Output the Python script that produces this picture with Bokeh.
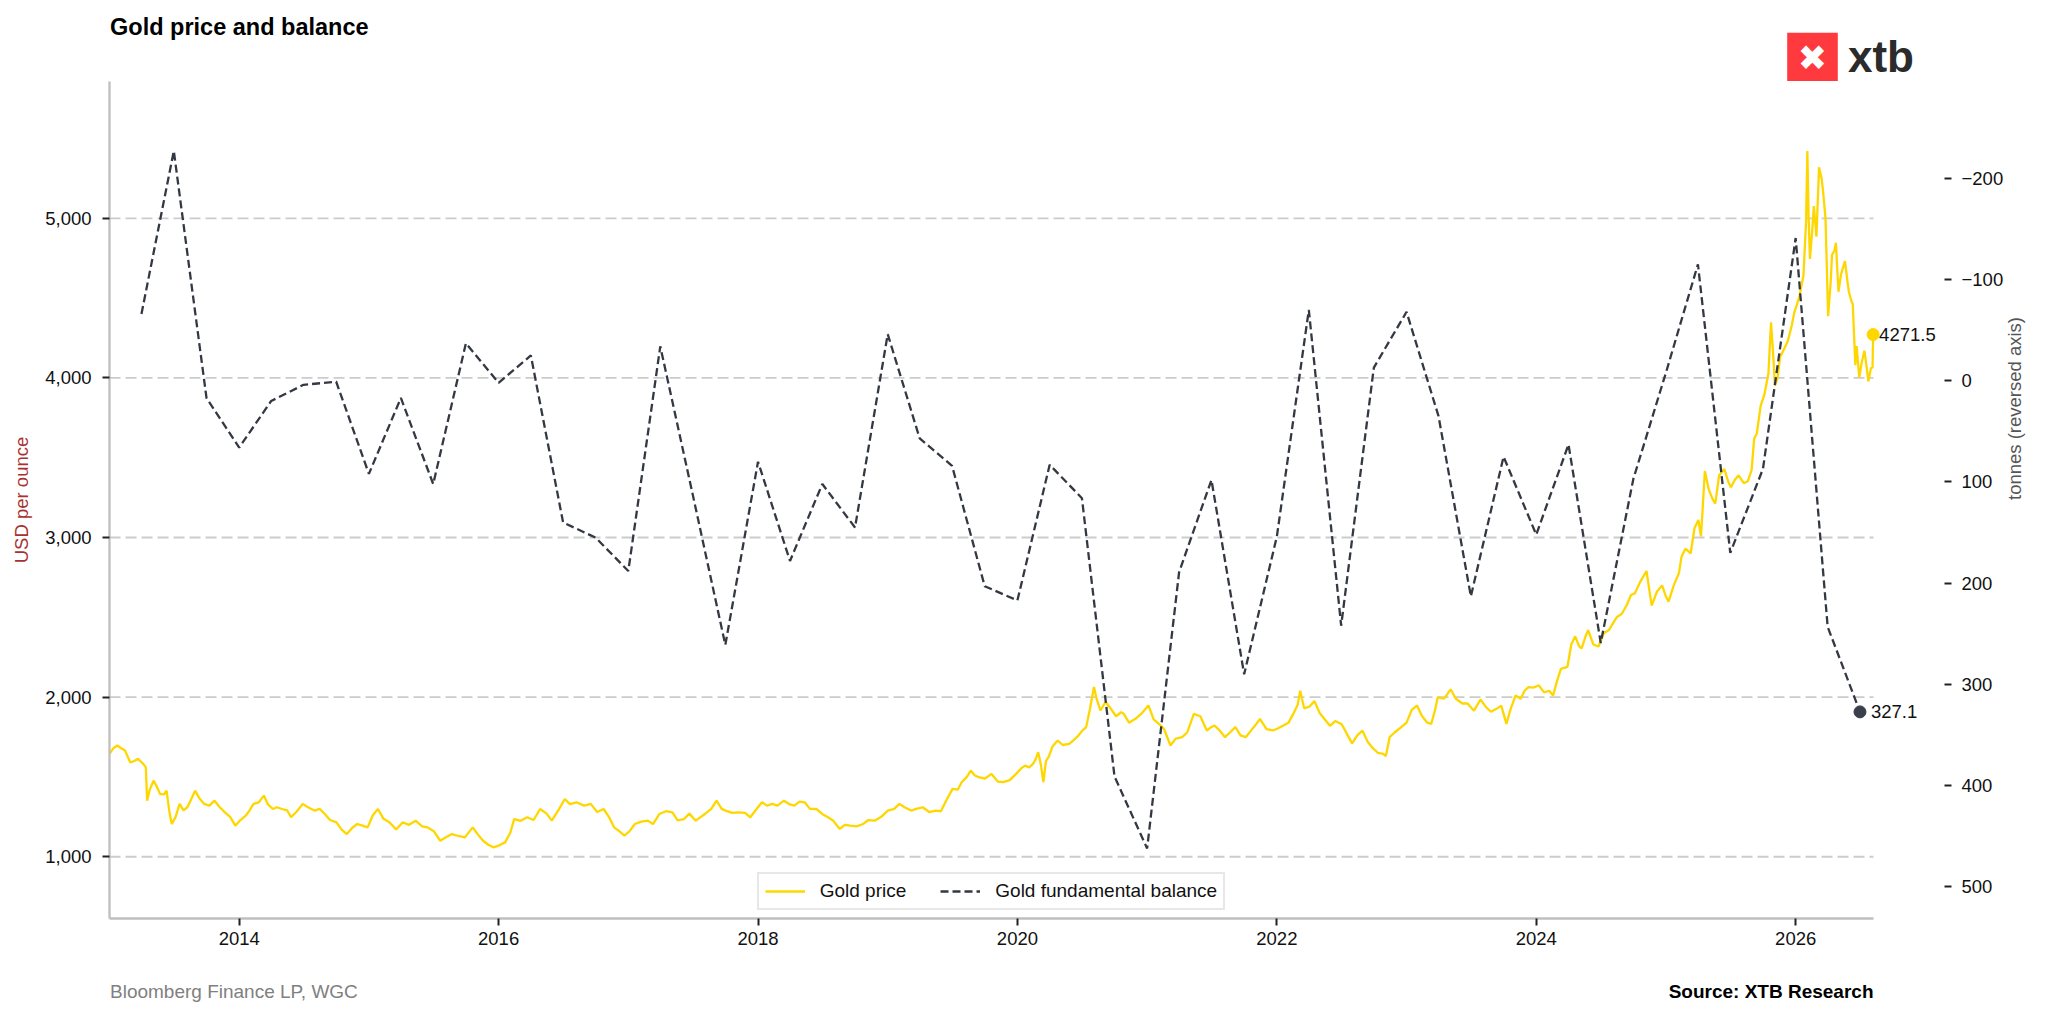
import math
import pandas as pd
from bokeh.plotting import figure
from bokeh.layouts import column
from bokeh.models import (Range1d, LinearAxis, FixedTicker, NumeralTickFormatter,
                          Legend, LegendItem, Label)
from bokeh.core.properties import value
from bokeh.embed import file_html
from bokeh.resources import INLINE

FONT = "Liberation Sans"

# ---------------- data ----------------
gold_t = [
    2013.00, 2013.03, 2013.06, 2013.09, 2013.12, 2013.16, 2013.19, 2013.22, 2013.26, 2013.28,
    2013.29, 2013.31, 2013.34, 2013.37, 2013.39, 2013.42, 2013.44, 2013.46, 2013.48, 2013.51,
    2013.54, 2013.57, 2013.60, 2013.63, 2013.66, 2013.69, 2013.73, 2013.77, 2013.81, 2013.85,
    2013.89, 2013.93, 2013.97, 2014.01, 2014.05, 2014.08, 2014.11, 2014.15, 2014.19, 2014.22,
    2014.26, 2014.29, 2014.33, 2014.37, 2014.40, 2014.44, 2014.49, 2014.53, 2014.58, 2014.62,
    2014.66, 2014.70, 2014.75, 2014.79, 2014.83, 2014.87, 2014.91, 2014.95, 2014.99, 2015.03,
    2015.07, 2015.11, 2015.16, 2015.21, 2015.26, 2015.31, 2015.36, 2015.41, 2015.45, 2015.50,
    2015.55, 2015.59, 2015.64, 2015.69, 2015.74, 2015.80, 2015.84, 2015.88, 2015.92, 2015.96,
    2016.00, 2016.05, 2016.09, 2016.12, 2016.17, 2016.22, 2016.27, 2016.32, 2016.37, 2016.41,
    2016.46, 2016.51, 2016.55, 2016.60, 2016.66, 2016.71, 2016.76, 2016.81, 2016.85, 2016.89,
    2016.93, 2016.97, 2017.01, 2017.05, 2017.10, 2017.15, 2017.19, 2017.24, 2017.29, 2017.34,
    2017.38, 2017.43, 2017.47, 2017.52, 2017.56, 2017.59, 2017.64, 2017.68, 2017.72, 2017.75,
    2017.80, 2017.85, 2017.90, 2017.94, 2017.98, 2018.03, 2018.07, 2018.11, 2018.15, 2018.20,
    2018.24, 2018.28, 2018.32, 2018.36, 2018.40, 2018.45, 2018.50, 2018.54, 2018.58, 2018.63,
    2018.67, 2018.71, 2018.76, 2018.81, 2018.85, 2018.90, 2018.95, 2019.00, 2019.05, 2019.09,
    2019.13, 2019.18, 2019.22, 2019.27, 2019.32, 2019.37, 2019.41, 2019.45, 2019.50, 2019.54,
    2019.57, 2019.61, 2019.64, 2019.67, 2019.70, 2019.75, 2019.80, 2019.85, 2019.89, 2019.94,
    2019.99, 2020.03, 2020.06, 2020.09, 2020.12, 2020.14, 2020.16, 2020.18, 2020.20, 2020.22,
    2020.24, 2020.27, 2020.31, 2020.35, 2020.40, 2020.44, 2020.47, 2020.50, 2020.53, 2020.56,
    2020.59, 2020.61, 2020.64, 2020.68, 2020.72, 2020.76, 2020.80, 2020.82, 2020.86, 2020.91,
    2020.96, 2021.01, 2021.05, 2021.09, 2021.13, 2021.18, 2021.22, 2021.27, 2021.31, 2021.36,
    2021.41, 2021.46, 2021.49, 2021.52, 2021.56, 2021.60, 2021.64, 2021.68, 2021.72, 2021.76,
    2021.80, 2021.84, 2021.87, 2021.92, 2021.97, 2022.01, 2022.05, 2022.09, 2022.13, 2022.16,
    2022.18, 2022.21, 2022.25, 2022.29, 2022.33, 2022.37, 2022.41, 2022.45, 2022.50, 2022.54,
    2022.58, 2022.62, 2022.66, 2022.70, 2022.74, 2022.78, 2022.82, 2022.84, 2022.87, 2022.91,
    2022.95, 2023.00, 2023.04, 2023.08, 2023.12, 2023.16, 2023.19, 2023.22, 2023.24, 2023.29,
    2023.34, 2023.38, 2023.43, 2023.47, 2023.52, 2023.57, 2023.61, 2023.65, 2023.69, 2023.73,
    2023.77, 2023.80, 2023.84, 2023.88, 2023.91, 2023.94, 2023.98, 2024.02, 2024.06, 2024.10,
    2024.13, 2024.16, 2024.19, 2024.24, 2024.27, 2024.30, 2024.33, 2024.35, 2024.38, 2024.40,
    2024.44, 2024.48, 2024.52, 2024.56, 2024.59, 2024.62, 2024.66, 2024.70, 2024.73, 2024.76,
    2024.80, 2024.85, 2024.87, 2024.89, 2024.93, 2024.97, 2025.00, 2025.02, 2025.06, 2025.10,
    2025.12, 2025.15, 2025.19, 2025.22, 2025.25, 2025.27, 2025.30, 2025.33, 2025.36, 2025.38,
    2025.41, 2025.45, 2025.48, 2025.50, 2025.53, 2025.56, 2025.60, 2025.63, 2025.66, 2025.68,
    2025.70, 2025.73, 2025.76, 2025.79, 2025.81, 2025.83, 2025.84, 2025.86, 2025.88, 2025.91,
    2025.94, 2025.97, 2025.99, 2026.01, 2026.03, 2026.05, 2026.06, 2026.08, 2026.09, 2026.10,
    2026.11, 2026.13, 2026.14, 2026.16, 2026.17, 2026.18, 2026.20, 2026.21, 2026.23, 2026.24,
    2026.25, 2026.27, 2026.28, 2026.30, 2026.31, 2026.33, 2026.35, 2026.38, 2026.40, 2026.41,
    2026.43, 2026.44, 2026.46, 2026.47, 2026.49, 2026.51, 2026.53, 2026.55, 2026.56, 2026.58,
    2026.593, 2026.597,
]
gold_v = [
    1644, 1680, 1697, 1680, 1665, 1590, 1600, 1613, 1582, 1560,
    1351, 1420, 1477, 1430, 1393, 1390, 1414, 1290, 1205, 1250,
    1331, 1290, 1310, 1360, 1414, 1370, 1331, 1320, 1351, 1310,
    1278, 1250, 1195, 1230, 1257, 1290, 1331, 1340, 1383, 1330,
    1299, 1310, 1299, 1290, 1247, 1280, 1331, 1310, 1289, 1300,
    1268, 1230, 1215, 1170, 1142, 1180, 1205, 1195, 1184, 1260,
    1299, 1240, 1215, 1170, 1215, 1200, 1226, 1190, 1184, 1160,
    1100, 1120, 1142, 1130, 1121, 1184, 1140, 1100, 1075, 1059,
    1070, 1090, 1150, 1236, 1225, 1247, 1230, 1299, 1270, 1226,
    1290, 1362, 1330, 1341, 1320, 1331, 1280, 1299, 1250, 1184,
    1160, 1132, 1160, 1205, 1220, 1226, 1205, 1268, 1285, 1278,
    1228, 1236, 1270, 1226, 1250, 1268, 1300, 1351, 1300, 1289,
    1275, 1278, 1275, 1247, 1290, 1341, 1320, 1331, 1320, 1351,
    1330, 1320, 1345, 1341, 1300, 1299, 1265, 1247, 1225, 1174,
    1200, 1195, 1190, 1205, 1230, 1226, 1250, 1289, 1300, 1331,
    1310, 1289, 1300, 1310, 1280, 1289, 1285, 1351, 1425, 1420,
    1467, 1500, 1540, 1510, 1498, 1490, 1519, 1470, 1467, 1480,
    1519, 1555, 1571, 1560, 1582, 1610, 1655, 1580, 1467, 1600,
    1624, 1690, 1728, 1700, 1707, 1735, 1759, 1790, 1812, 1930,
    2063, 1990, 1916, 1970, 1927, 1880, 1905, 1895, 1840, 1864,
    1900, 1948, 1860, 1833, 1800, 1697, 1740, 1749, 1780, 1895,
    1880, 1791, 1810, 1822, 1790, 1749, 1780, 1812, 1760, 1749,
    1790, 1830, 1864, 1800, 1791, 1805, 1822, 1840, 1900, 1950,
    2040, 1930, 1940, 1975, 1900, 1860, 1820, 1850, 1830, 1770,
    1710, 1760, 1790, 1720, 1680, 1650, 1645, 1630, 1750, 1780,
    1806, 1840, 1920, 1947, 1880, 1840, 1832, 1920, 1998, 1990,
    2049, 1990, 1960, 1960, 1915, 1985, 1940, 1908, 1925, 1947,
    1832, 1920, 2010, 1990, 2040, 2062, 2060, 2074, 2030, 2040,
    2010, 2100, 2177, 2189, 2330, 2381, 2320, 2305, 2380, 2420,
    2330, 2317, 2400, 2420, 2460, 2500, 2522, 2580, 2640, 2650,
    2720, 2790, 2680, 2573, 2660, 2700, 2630, 2598, 2700, 2777,
    2880, 2930, 2900, 3058, 3110, 3007, 3416, 3300, 3240, 3212,
    3390, 3429, 3350, 3314, 3360, 3390, 3340, 3352, 3420, 3620,
    3650, 3825, 3900, 4029, 4348, 4100, 3952, 4000, 4131, 4180,
    4233, 4330, 4412, 4460, 4515, 4600, 4642, 4975, 5422, 5000,
    4745, 4950, 5077, 4885, 5100, 5319, 5250, 5179, 5000, 4700,
    4387, 4600, 4770, 4800, 4847, 4540, 4650, 4732, 4600, 4540,
    4480, 4463, 4080, 4200, 4003, 4100, 4170, 4050, 3978, 4060,
    4067, 4271.5,
]

# quarterly gold fundamental balance, tonnes (Q1 2013 ... Q2 2026)
bal_v = [
    -66, -227, 17, 66, 20, 4, 1, 92, 17, 102,
    -37, 2, -25, 140, 155, 188, -34, 112, 261, 80,
    178, 102, 145, -46, 57, 84, 203, 217, 83, 116,
    391, 462, 189, 98, 290, 154, -70, 242, -13, -68,
    35, 213, 75, 152, 63, 259, 97, -8, -115, 170,
    87, -141, 243, 327.1,
]
bal_first_quarter = "2013Q1"

x_ticks = [2014, 2016, 2018, 2020, 2022, 2024, 2026]
gold_ticks = [1000, 2000, 3000, 4000, 5000]
bal_ticks = [-200, -100, 0, 100, 200, 300, 400, 500]

title_text = "Gold price and balance"
source_left = "Bloomberg Finance LP, WGC"
source_right = "Source: XTB Research"

# quarter-end dates -> decimal years
_q_end = pd.period_range(bal_first_quarter, periods=len(bal_v), freq="Q").end_time
bal_t = [d.year + (d.dayofyear - 1 + d.hour / 24.0) / (366 if d.is_leap_year else 365) for d in _q_end]

# ---------------- layout constants (page pixels) ----------------
W = 2040
HEAD_H = 81            # header strip: title + logo
FOOT_H = 55            # footer strip: sources
MAIN_H = 879
FRAME_L, FRAME_R = 109, 1944
DATA_R = 1873          # right end of the x axis / grid
FRAME_H = 837

x_lo, x_data_hi = 2013.0, 2026.6
x_hi = x_lo + (x_data_hi - x_lo) * (FRAME_R - FRAME_L) / (DATA_R - FRAME_L)

TICK_FS = "18.5px"
TEXT_FS = "19px"
GOLD = "#FFD700"
BAL = "#333842"


def blank_strip(height):
    # x data units == page pixels; y data units == pixels from the strip top
    f = figure(width=W, height=height, output_backend="svg", toolbar_location=None,
               x_range=Range1d(FRAME_L, FRAME_R), y_range=Range1d(height, 0),
               x_axis_type=None, y_axis_type=None,
               min_border_left=FRAME_L, min_border_right=W - FRAME_R,
               min_border_top=0, min_border_bottom=0,
               background_fill_color="white", border_fill_color="white")
    f.outline_line_color = None
    f.grid.visible = False
    return f


# ---------------- header ----------------
head = blank_strip(HEAD_H)
head.text(x=[FRAME_L + 0.5], y=[26.3], text=[title_text], text_font=value(FONT),
          text_font_size="23.5px", text_font_style="bold", text_color="#000000",
          text_baseline="middle", text_align="left")
head.quad(left=[1786.7], right=[1837.3], top=[32.3], bottom=[HEAD_H], fill_color="#fe3a3f",
          line_color=None)
head.text(x=[1812], y=[57], text=["\u2716"], text_font=value("DejaVu Sans"),
          text_font_size="35px", text_color="#ffffff", text_align="center", text_baseline="middle")
head.text(x=[1847.5], y=[56.2], text=["xtb"], text_font=value(FONT), text_font_size="44px",
          text_font_style="bold", text_color="#2b2b2b", text_baseline="middle",
          text_align="left")

# ---------------- main chart ----------------
p = figure(width=W, height=MAIN_H, output_backend="svg", toolbar_location=None,
           x_range=Range1d(x_lo, x_hi), y_range=Range1d(613, 5857),
           min_border_left=FRAME_L, min_border_right=W - FRAME_R, min_border_top=0,
           min_border_bottom=MAIN_H - FRAME_H,
           background_fill_color="white", border_fill_color="white")
p.outline_line_color = None
p.xgrid.visible = False
p.ygrid.visible = False
p.extra_y_ranges = {"bal": Range1d(531.2, -295.6)}

# grid lines (only across the data area)
p.segment(x0=[x_lo] * len(gold_ticks), y0=gold_ticks, x1=[x_data_hi] * len(gold_ticks), y1=gold_ticks,
          line_color="#cccccc", line_width=1.8, line_dash="11 5", level="underlay")


def style_axis(ax, standoff):
    ax.major_tick_line_color = "#222222"
    ax.major_tick_line_width = 2
    ax.major_tick_in = 0
    ax.major_tick_out = 7
    ax.minor_tick_line_color = None
    ax.major_label_standoff = standoff
    ax.major_label_text_font = FONT
    ax.major_label_text_font_size = TICK_FS
    ax.major_label_text_color = "#111111"
    ax.axis_label_text_font = FONT
    ax.axis_label_text_font_size = TICK_FS
    ax.axis_label_text_font_style = "normal"


xa = p.xaxis[0]
style_axis(xa, 6)
xa.ticker = FixedTicker(ticks=x_ticks)
xa.bounds = (x_lo, x_data_hi)
xa.axis_line_color = "#bfbfbf"
xa.axis_line_width = 2.3

ya = p.yaxis[0]
style_axis(ya, 11)
ya.ticker = FixedTicker(ticks=gold_ticks)
ya.formatter = NumeralTickFormatter(format="0,0")
ya.axis_line_color = "#bfbfbf"
ya.axis_line_width = 2.3
ya.axis_label = "USD per ounce"
ya.axis_label_text_color = "#a83232"
ya.axis_label_standoff = 10

ra = LinearAxis(y_range_name="bal", ticker=FixedTicker(ticks=bal_ticks),
                major_label_overrides={t: ("\u2212" + str(abs(t))) for t in bal_ticks if t < 0})
style_axis(ra, 10)
ra.axis_line_color = None
ra.axis_label = "tonnes (reversed axis)"
ra.axis_label_text_color = "#555555"
ra.axis_label_standoff = 8
try:
    ra.axis_label_orientation = math.pi / 2
except Exception:
    pass
p.add_layout(ra, "right")

gold_r = p.line(gold_t, gold_v, line_color=GOLD, line_width=2.3)
bal_r = p.line(bal_t, bal_v, y_range_name="bal", line_color=BAL, line_width=2.3, line_dash="8 4")

p.scatter([gold_t[-1]], [gold_v[-1]], size=12, fill_color=GOLD, line_color=GOLD)
p.scatter([bal_t[-1]], [bal_v[-1]], size=12, fill_color="#3a3f4b", line_color="#3a3f4b",
          y_range_name="bal")

p.add_layout(Label(x=gold_t[-1], y=gold_v[-1], x_offset=6, text=f"{gold_v[-1]:.1f}",
                   text_font=FONT, text_font_size=TICK_FS, text_color="#111111",
                   text_baseline="middle", text_align="left"))
p.add_layout(Label(x=bal_t[-1], y=bal_v[-1], x_offset=11, text=f"{bal_v[-1]:.1f}",
                   y_range_name="bal",
                   text_font=FONT, text_font_size=TICK_FS, text_color="#111111",
                   text_baseline="middle", text_align="left"))

legend = Legend(items=[LegendItem(label="Gold price", renderers=[gold_r]),
                       LegendItem(label="Gold fundamental balance", renderers=[bal_r])],
                orientation="horizontal", location=(647.7, 8),
                label_text_font=FONT, label_text_font_size=TEXT_FS, label_text_color="#111111",
                glyph_width=40, glyph_height=20, label_standoff=15, spacing=34, padding=6,
                margin=0, border_line_color="#cfcfcf", border_line_width=2,
                background_fill_color="white", background_fill_alpha=1)
p.add_layout(legend)

# ---------------- footer ----------------
foot = blank_strip(FOOT_H)
foot.text(x=[FRAME_L + 0.5], y=[30.7], text=[source_left], text_font=value(FONT),
          text_font_size=TEXT_FS, text_color="#808080", text_baseline="middle", text_align="left")
foot.text(x=[DATA_R], y=[30.7], text=[source_right], text_font=value(FONT), text_font_size=TEXT_FS,
          text_font_style="bold", text_color="#000000", text_baseline="middle",
          text_align="right")

layout = column(head, p, foot)
open("out.html", "w").write(file_html(layout, INLINE))
